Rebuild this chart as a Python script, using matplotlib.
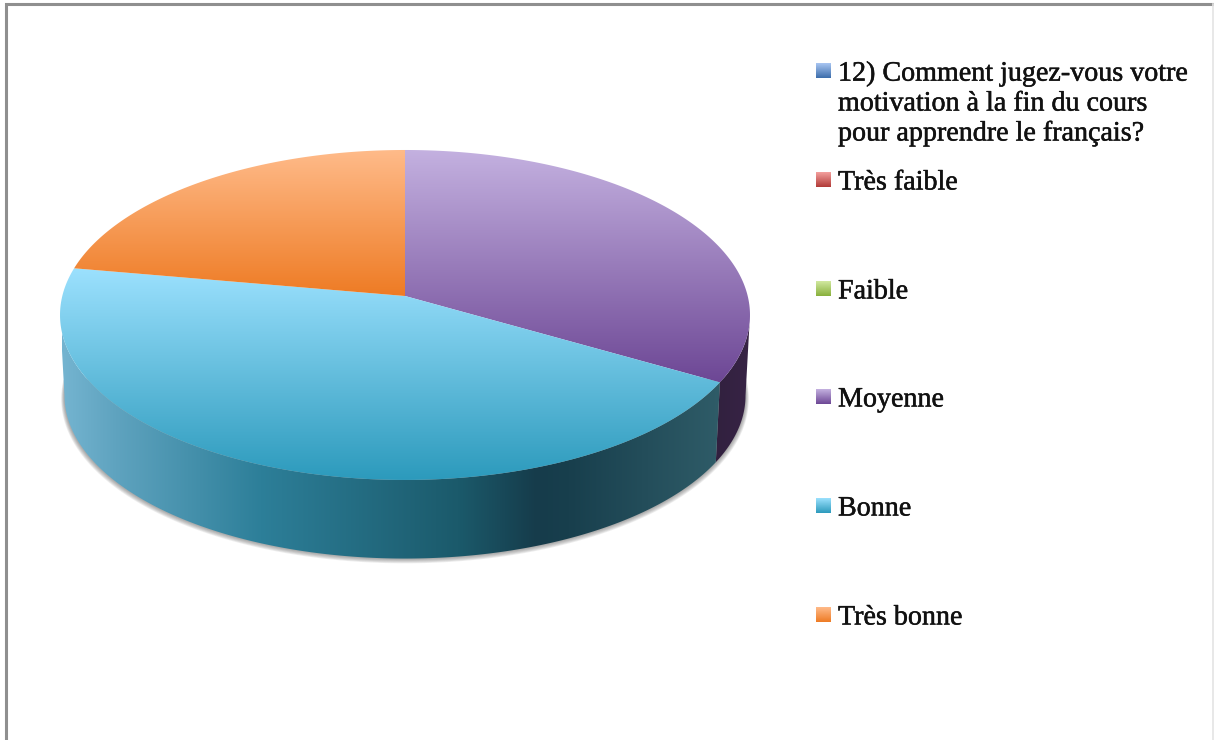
import numpy as np
import matplotlib
matplotlib.use("Agg")
import matplotlib.pyplot as plt
import matplotlib.patheffects as pe
from matplotlib.colors import LinearSegmentedColormap
from matplotlib.patches import Polygon

# answers per category, the first entry is the question itself (no value)
labels = ["12) Comment jugez-vous votre\nmotivation à la fin du cours\npour apprendre le français?",
          "Très faible", "Faible", "Moyenne", "Bonne", "Très bonne"]
values = [0, 0, 0, 3, 4, 2]
legend_y = [71, 180, 289, 397, 506, 615]

top_cols = [("#a9c6f2", "#3c6dab"), ("#f4a09e", "#b13a37"), ("#d2e9a0", "#88b03c"),
            ("#c4b1e0", "#6d4795"), ("#9ce1fe", "#2c9abc"), ("#ffbb8a", "#ee7b24")]

plt.rcParams["font.family"] = ["Liberation Serif", "DejaVu Serif"]

fig = plt.figure(figsize=(12.14, 7.40), dpi=100)
ax = fig.add_axes([0, 0, 1, 1])
ax.set_xlim(0, 1214)
ax.set_ylim(740, 0)
ax.axis("off")
ax.set_autoscale_on(False)

# frame, cut off at the bottom of the picture
ax.plot([5.5, 5.5, 1213], [740, 4, 4], color="#8f8f8f", lw=2.2, solid_joinstyle="miter")
ax.plot([1213, 1213], [4, 740], color="#e4e4e4", lw=1.2)

persp = 0.115


def project(angle, scale=1.0, dy=0.0):
    # clockwise angle from the top, perspective view of the disc
    x = np.sin(angle)
    y = np.cos(angle)
    u = 342.7 * x / (1 + persp * y)
    v = 162.8 * y / (1 + persp * y)
    return np.column_stack([405 + scale * u, 296 + dy - scale * v])


def grad(c0, c1, box, clip=None, horizontal=False, z=2):
    x0, x1, y0, y1 = box
    cmap = LinearSegmentedColormap.from_list("g", [c0, c1] if isinstance(c0, str) else c0)
    arr = np.linspace(0, 1, 256)
    arr = arr.reshape(1, -1) if horizontal else arr.reshape(-1, 1)
    im = ax.imshow(arr, cmap=cmap, extent=(x0, x1, y1, y0), aspect="auto", zorder=z,
                   interpolation="bilinear", origin="upper")
    if clip is not None:
        im.set_clip_path(clip)
    return im


edges = np.cumsum([0] + values) / sum(values) * 2 * np.pi
low_scale, low_dy = 0.987, 81
# the side is seen between the two points where the rim turns back
side_min = np.arccos(-persp)
side_max = 2 * np.pi - side_min

# soft shadow below the disc
a = np.linspace(np.pi * 0.5, np.pi * 1.5, 300)
for g in [6, 5, 4, 3, 2, 1]:
    rim = project(a, low_scale + g * 0.0016, low_dy + g * 0.5)
    ax.add_patch(Polygon(rim, closed=True, fc="#555555", ec="none", alpha=0.10, zorder=1))

# side of the disc
side_cols = {
    3: ([(0, "#2e1f3c"), (1, "#3a2547")], (700, 760, 300, 480)),
    4: ([(0, "#74b4d0"), (0.08, "#5fa3bf"), (0.3, "#2d7f99"), (0.6, "#1b5a6b"),
         (0.72, "#163c4b"), (0.77, "#183f4d"), (1, "#2f5c68")], (62, 722, 300, 560)),
}
for i, (cols, box) in side_cols.items():
    a = np.linspace(max(edges[i], side_min), min(edges[i + 1], side_max), 200)
    upper = project(a)
    lower = project(a, low_scale, low_dy)
    poly = Polygon(np.vstack([upper, lower[::-1]]), closed=True, fc="none", ec="none", zorder=2)
    ax.add_patch(poly)
    grad(cols, None, box, clip=poly, horizontal=True, z=2)

# top of the disc, the gradient runs over the height of each slice
for i in [3, 4, 5]:
    a = np.linspace(edges[i], edges[i + 1], 200)
    rim = project(a)
    pts = np.vstack([[405, 296], rim])
    poly = Polygon(pts, closed=True, fc="none", ec="none", zorder=3)
    ax.add_patch(poly)
    grad(top_cols[i][0], top_cols[i][1],
         (pts[:, 0].min(), pts[:, 0].max(), pts[:, 1].min(), pts[:, 1].max()), clip=poly, z=3)

# legend
for lab, y, (c0, c1) in zip(labels, legend_y, top_cols):
    grad(c0, c1, (816, 831, y - 7.5, y + 7.5), z=3)
    t = ax.text(838, y - 9.5, lab, fontsize=20.2, color="#111111", va="top", ha="left",
                linespacing=1.26)
    t.set_path_effects([pe.withStroke(linewidth=0.35, foreground="#111111")])

fig.savefig("out.png", dpi=100)
